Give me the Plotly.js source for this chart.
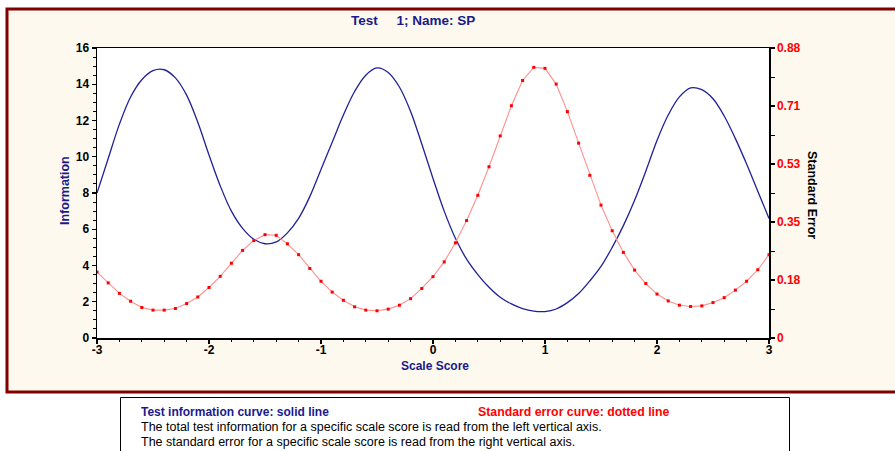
<!DOCTYPE html>
<html>
<head>
<meta charset="utf-8">
<script src="https://cdn.plot.ly/plotly-3.0.1.min.js"></script>
<style>
  html, body { margin: 0; padding: 0; background: #ffffff; }
  #chart { width: 895px; height: 451px; }
</style>
</head>
<body>
<div id="chart"></div>
<script>
// Scale score grid (theta) shared by both curves
const scaleScore = [
  -3.0, -2.9, -2.8, -2.7, -2.6, -2.5, -2.4, -2.3, -2.2, -2.1,
  -2.0, -1.9, -1.8, -1.7, -1.6, -1.5, -1.4, -1.3, -1.2, -1.1,
  -1.0, -0.9, -0.8, -0.7, -0.6, -0.5, -0.4, -0.3, -0.2, -0.1,
   0.0,  0.1,  0.2,  0.3,  0.4,  0.5,  0.6,  0.7,  0.8,  0.9,
   1.0,  1.1,  1.2,  1.3,  1.4,  1.5,  1.6,  1.7,  1.8,  1.9,
   2.0,  2.1,  2.2,  2.3,  2.4,  2.5,  2.6,  2.7,  2.8,  2.9,
   3.0
];

// Total test information (left axis)
const information = [
   8.0,  9.9, 11.8, 13.3, 14.25, 14.75, 14.8, 14.35, 13.4, 11.9,
  10.1,  8.4,  7.0,  6.05, 5.45, 5.2,  5.3,  5.8,  6.6,  7.8,
   9.3, 10.8, 12.3, 13.6, 14.5, 14.9, 14.65, 13.85, 12.5, 10.7,
   8.8,  7.0,  5.5,  4.35, 3.5, 2.8,  2.25, 1.88, 1.62, 1.48,
   1.46, 1.6,  1.95, 2.45, 3.15, 3.95, 5.0,  6.2,  7.6,  9.2,
  10.9, 12.3, 13.3, 13.8, 13.7, 13.2, 12.25, 11.0, 9.6,  8.1,
   6.6
];

// Standard error of measurement (right axis)
const standardError = [
  0.201, 0.168, 0.136, 0.112, 0.093, 0.085, 0.085, 0.090, 0.105, 0.125,
  0.154, 0.188, 0.228, 0.267, 0.297, 0.315, 0.313, 0.287, 0.254, 0.212,
  0.173, 0.140, 0.115, 0.095, 0.085, 0.083, 0.088, 0.100, 0.120, 0.151,
  0.187, 0.232, 0.290, 0.358, 0.435, 0.522, 0.616, 0.708, 0.785, 0.825,
  0.822, 0.774, 0.690, 0.594, 0.496, 0.405, 0.327, 0.261, 0.207, 0.166,
  0.134, 0.113, 0.100, 0.096, 0.098, 0.108, 0.123, 0.146, 0.173, 0.208,
  0.254
];

// Axis tick labels
const infoTicks = [0, 2, 4, 6, 8, 10, 12, 14, 16];
const scoreTicks = [-3, -2, -1, 0, 1, 2, 3];
const seTickLabels = ['0', '0.18', '0.35', '0.53', '0.71', '0.88'];

const seMax = 0.884;
const seTickVals = seTickLabels.map((_, i) => seMax * i / (seTickLabels.length - 1));

// Plot area in pixels
const PLOT = { left: 97, right: 769, top: 48, bottom: 338 };
const px = p => (p - PLOT.left) / (PLOT.right - PLOT.left);
const py = p => (PLOT.bottom - p) / (PLOT.bottom - PLOT.top);

const FONT = '"Liberation Sans", Arial, Helvetica, sans-serif';
const NAVY = '#1a1a8c';
const RED = '#ff0000';

const traces = [
  {
    x: scaleScore, y: information,
    type: 'scatter', mode: 'lines',
    line: { color: '#202098', width: 1.3, shape: 'spline', smoothing: 1 },
    hoverinfo: 'skip', showlegend: false
  },
  {
    x: scaleScore, y: standardError, yaxis: 'y2',
    type: 'scatter', mode: 'lines+markers',
    line: { color: '#ff8f8f', width: 1.1 },
    marker: { symbol: 'square', size: 3, color: RED },
    hoverinfo: 'skip', showlegend: false
  }
];

const tickFont = { family: FONT, size: 12, color: '#000000', weight: 'bold' };

const layout = {
  width: 895, height: 451,
  margin: { l: PLOT.left, r: 895 - PLOT.right, t: PLOT.top, b: 451 - PLOT.bottom, pad: 0 },
  paper_bgcolor: '#ffffff',
  plot_bgcolor: 'rgba(0,0,0,0)',
  showlegend: false,
  xaxis: {
    range: [-3, 3],
    tickvals: scoreTicks, ticktext: scoreTicks.map(String),
    ticks: 'outside', ticklen: 4, tickwidth: 1.2, tickcolor: '#000',
    ticklabelstandoff: -4,
    minor: { dtick: 0.2, tick0: -3, ticks: 'outside', ticklen: 2.5, tickcolor: '#000', tickwidth: 1, showgrid: false },
    showline: true, linecolor: '#000', linewidth: 1.5, mirror: true,
    showgrid: false, zeroline: false,
    tickfont: tickFont
  },
  yaxis: {
    range: [0, 16],
    tickvals: infoTicks, ticktext: infoTicks.map(String),
    ticks: 'outside', ticklen: 4, tickwidth: 1.2, tickcolor: '#000',
    minor: { dtick: 0.5, tick0: 0, ticks: 'outside', ticklen: 2.5, tickcolor: '#000', tickwidth: 1, showgrid: false },
    showline: true, linecolor: '#000', linewidth: 1.5, mirror: true,
    showgrid: false, zeroline: false,
    tickfont: tickFont
  },
  yaxis2: {
    range: [0, seMax], overlaying: 'y', side: 'right',
    tickvals: seTickVals, ticktext: seTickLabels,
    ticks: 'outside', ticklen: 4, tickwidth: 1.2, tickcolor: '#000',
    minor: { dtick: seMax / 10, tick0: 0, ticks: 'outside', ticklen: 4, tickcolor: '#000', tickwidth: 1, showgrid: false },
    showline: true, linecolor: '#000', linewidth: 1.5,
    showgrid: false, zeroline: false,
    tickfont: { family: FONT, size: 12, color: RED, weight: 'bold' }
  },
  shapes: [
    // cream chart panel with dark red frame
    { type: 'rect', xref: 'paper', yref: 'paper', layer: 'below',
      x0: px(7), x1: px(905), y0: py(392), y1: py(9),
      fillcolor: '#fdf9ee', line: { color: '#800000', width: 3 } },
    // white plotting area
    { type: 'rect', xref: 'paper', yref: 'paper', layer: 'below',
      x0: 0, x1: 1, y0: 0, y1: 1,
      fillcolor: '#ffffff', line: { width: 0 } },
    // note box under the chart
    { type: 'rect', xref: 'paper', yref: 'paper', layer: 'below',
      x0: px(120.5), x1: px(789.5), y0: py(397.5), y1: py(470),
      fillcolor: '#ffffff', line: { color: '#000000', width: 1 } }
  ],
  annotations: [
    { text: '<b>Test&nbsp;&nbsp;&nbsp;&nbsp; 1; Name: SP</b>', xref: 'paper', yref: 'paper',
      x: px(413), y: py(20), xanchor: 'center', yanchor: 'middle', showarrow: false,
      font: { family: FONT, size: 13.5, color: NAVY } },
    { text: '<b>Information</b>', xref: 'paper', yref: 'paper',
      x: px(65), y: py(191), xanchor: 'center', yanchor: 'middle', showarrow: false,
      textangle: -90, font: { family: FONT, size: 12.5, color: NAVY } },
    { text: '<b>Standard Error</b>', xref: 'paper', yref: 'paper',
      x: px(812), y: py(195), xanchor: 'center', yanchor: 'middle', showarrow: false,
      textangle: 90, font: { family: FONT, size: 12.5, color: '#000000' } },
    { text: '<b>Scale Score</b>', xref: 'paper', yref: 'paper',
      x: px(435), y: py(366), xanchor: 'center', yanchor: 'middle', showarrow: false,
      font: { family: FONT, size: 12, color: NAVY } },
    { text: '<b>Test information curve: solid line</b>', xref: 'paper', yref: 'paper',
      x: px(139), y: py(412), xanchor: 'left', yanchor: 'middle', showarrow: false,
      font: { family: FONT, size: 12, color: NAVY } },
    { text: '<b>Standard error curve: dotted line</b>', xref: 'paper', yref: 'paper',
      x: px(476), y: py(412), xanchor: 'left', yanchor: 'middle', showarrow: false,
      font: { family: FONT, size: 12.3, color: RED } },
    { text: 'The total test information for a specific scale score is read from the left vertical axis.', xref: 'paper', yref: 'paper',
      x: px(139), y: py(427), xanchor: 'left', yanchor: 'middle', showarrow: false,
      font: { family: FONT, size: 12.5, color: '#000000' } },
    { text: 'The standard error for a specific scale score is read from the right vertical axis.', xref: 'paper', yref: 'paper',
      x: px(139), y: py(442), xanchor: 'left', yanchor: 'middle', showarrow: false,
      font: { family: FONT, size: 12.5, color: '#000000' } }
  ]
};

Plotly.newPlot('chart', traces, layout, { staticPlot: true, displayModeBar: false });
</script>
</body>
</html>
